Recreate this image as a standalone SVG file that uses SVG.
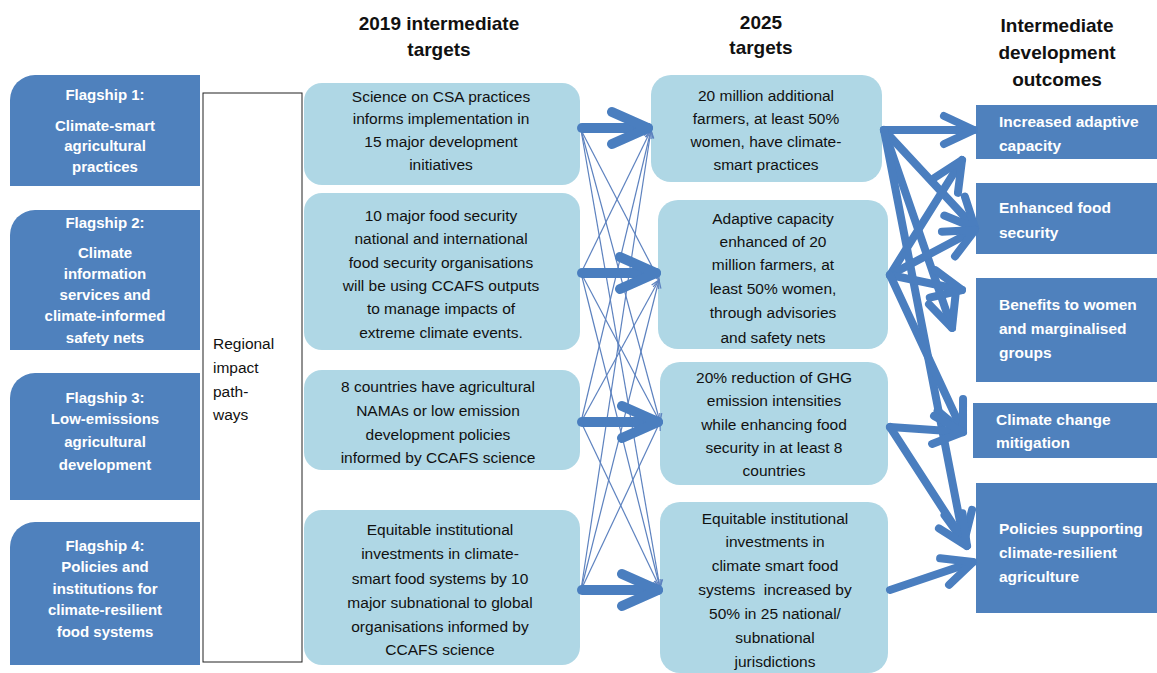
<svg xmlns="http://www.w3.org/2000/svg" width="1157" height="673" viewBox="0 0 1157 673">
<defs>
<style>
.flag{fill:#4f81bd}
.out{fill:#4f81bd}
.lb{fill:#afd7e5}
.hd{font-family:"Liberation Sans",Arial,sans-serif;font-weight:bold;font-size:19px;fill:#111;text-anchor:middle}
.wt{font-family:"Liberation Sans",Arial,sans-serif;font-weight:bold;font-size:15px;fill:#fff;text-anchor:middle}
.wl{font-family:"Liberation Sans",Arial,sans-serif;font-weight:bold;font-size:15.5px;fill:#fff}
.bt{font-family:"Liberation Sans",Arial,sans-serif;font-size:15.5px;fill:#111;text-anchor:middle}
.rt{font-family:"Liberation Sans",Arial,sans-serif;font-size:15.5px;fill:#111}
.thick{stroke:#4a7ebf;stroke-width:10;fill:none;stroke-linecap:round}
.mid{stroke:#4a7ebf;stroke-width:8;fill:none;stroke-linecap:round}
.thin{stroke:#5d82bf;stroke-width:1.2;fill:none}
</style>
<marker id="bigHead" markerUnits="userSpaceOnUse" viewBox="-45 -25 50 50" markerWidth="50" markerHeight="50" refX="0" refY="0" orient="auto">
<path d="M-36,-16 L0,0 L-36,16" fill="none" stroke="#4a7ebf" stroke-width="10" stroke-linecap="round" stroke-linejoin="round"/>
</marker>
<marker id="midHead" markerUnits="userSpaceOnUse" viewBox="-40 -22 44 44" markerWidth="44" markerHeight="44" refX="0" refY="0" orient="auto">
<path d="M-30,-14 L0,0 L-30,14" fill="none" stroke="#4a7ebf" stroke-width="8" stroke-linecap="round" stroke-linejoin="round"/>
</marker>
<marker id="thinHead" markerUnits="userSpaceOnUse" viewBox="-10 -6 12 12" markerWidth="12" markerHeight="12" refX="0" refY="0" orient="auto">
<path d="M-8,-4 L0,0 L-8,4" fill="none" stroke="#5d82bf" stroke-width="1.2"/>
</marker>
</defs>
<rect width="1157" height="673" fill="#ffffff"/>

<g id="headings">
<text class="hd" x="439" y="30">2019 intermediate</text>
<text class="hd" x="439" y="56">targets</text>
<text class="hd" x="761" y="29">2025</text>
<text class="hd" x="761" y="54">targets</text>
<text class="hd" x="1057" y="32">Intermediate</text>
<text class="hd" x="1057" y="59">development</text>
<text class="hd" x="1057" y="86">outcomes</text>
</g>

<g id="flagship1">
<path class="flag" d="M10,100 A25,25 0 0 1 35,75 H200 V186 H10 Z"/>
<text class="wt" x="105" y="100">Flagship 1:</text>
<text class="wt" x="105" y="131">Climate-smart</text>
<text class="wt" x="105" y="151">agricultural</text>
<text class="wt" x="105" y="172">practices</text>
</g>
<g id="flagship2">
<path class="flag" d="M10,235 A25,25 0 0 1 35,210 H200 V350 H10 Z"/>
<text class="wt" x="105" y="228">Flagship 2:</text>
<text class="wt" x="105" y="258">Climate</text>
<text class="wt" x="105" y="279">information</text>
<text class="wt" x="105" y="300">services and</text>
<text class="wt" x="105" y="321">climate-informed</text>
<text class="wt" x="105" y="343">safety nets</text>
</g>
<g id="flagship3">
<path class="flag" d="M10,398 A25,25 0 0 1 35,373 H200 V500 H10 Z"/>
<text class="wt" x="105" y="403">Flagship 3:</text>
<text class="wt" x="105" y="424">Low-emissions</text>
<text class="wt" x="105" y="447">agricultural</text>
<text class="wt" x="105" y="470">development</text>
</g>
<g id="flagship4">
<path class="flag" d="M10,547 A25,25 0 0 1 35,522 H200 V665 H10 Z"/>
<text class="wt" x="105" y="551">Flagship 4:</text>
<text class="wt" x="105" y="572">Policies and</text>
<text class="wt" x="105" y="594">institutions for</text>
<text class="wt" x="105" y="615">climate-resilient</text>
<text class="wt" x="105" y="637">food systems</text>
</g>

<g id="regional">
<rect x="203" y="93" width="99" height="569" fill="#fff" stroke="#222" stroke-width="1"/>
<text class="rt" x="213" y="349">Regional</text>
<text class="rt" x="213" y="373">impact</text>
<text class="rt" x="213" y="397">path-</text>
<text class="rt" x="213" y="420">ways</text>
</g>

<g id="t2019a">
<rect class="lb" x="304" y="83" width="276" height="102" rx="18"/>
<text class="bt" x="441" y="102">Science on CSA practices</text>
<text class="bt" x="441" y="124">informs implementation in</text>
<text class="bt" x="441" y="147">15 major development</text>
<text class="bt" x="441" y="170">initiatives</text>
</g>
<g id="t2019b">
<rect class="lb" x="304" y="193" width="276" height="157" rx="18"/>
<text class="bt" x="441" y="221">10 major food security</text>
<text class="bt" x="441" y="244">national and international</text>
<text class="bt" x="441" y="268">food security organisations</text>
<text class="bt" x="441" y="291">will be using CCAFS outputs</text>
<text class="bt" x="441" y="314">to manage impacts of</text>
<text class="bt" x="441" y="338">extreme climate events.</text>
</g>
<g id="t2019c">
<rect class="lb" x="304" y="370" width="276" height="100" rx="18"/>
<text class="bt" x="438" y="392">8 countries have agricultural</text>
<text class="bt" x="438" y="416">NAMAs or low emission</text>
<text class="bt" x="438" y="440">development policies</text>
<text class="bt" x="438" y="463">informed by CCAFS science</text>
</g>
<g id="t2019d">
<rect class="lb" x="304" y="510" width="276" height="155" rx="18"/>
<text class="bt" x="440" y="535">Equitable institutional</text>
<text class="bt" x="440" y="559">investments in climate-</text>
<text class="bt" x="440" y="584">smart food systems by 10</text>
<text class="bt" x="440" y="608">major subnational to global</text>
<text class="bt" x="440" y="632">organisations informed by</text>
<text class="bt" x="440" y="655">CCAFS science</text>
</g>

<g id="t2025a">
<rect class="lb" x="651" y="75" width="231" height="107" rx="20"/>
<text class="bt" x="766" y="101">20 million additional</text>
<text class="bt" x="766" y="124">farmers, at least 50%</text>
<text class="bt" x="766" y="147">women, have climate-</text>
<text class="bt" x="766" y="170">smart practices</text>
</g>
<g id="t2025b">
<rect class="lb" x="658" y="200" width="230" height="149" rx="20"/>
<text class="bt" x="773" y="224">Adaptive capacity</text>
<text class="bt" x="773" y="247">enhanced of 20</text>
<text class="bt" x="773" y="270">million farmers, at</text>
<text class="bt" x="773" y="294">least 50% women,</text>
<text class="bt" x="773" y="318">through advisories</text>
<text class="bt" x="773" y="343">and safety nets</text>
</g>
<g id="t2025c">
<rect class="lb" x="660" y="362" width="228" height="123" rx="20"/>
<text class="bt" x="774" y="383">20% reduction of GHG</text>
<text class="bt" x="774" y="406">emission intensities</text>
<text class="bt" x="774" y="430">while enhancing food</text>
<text class="bt" x="774" y="453">security in at least 8</text>
<text class="bt" x="774" y="476">countries</text>
</g>
<g id="t2025d">
<rect class="lb" x="660" y="502" width="228" height="171" rx="20"/>
<text class="bt" x="775" y="524">Equitable institutional</text>
<text class="bt" x="775" y="547">investments in</text>
<text class="bt" x="775" y="571">climate smart food</text>
<text class="bt" x="775" y="595" xml:space="preserve">systems  increased by</text>
<text class="bt" x="775" y="619">50% in 25 national/</text>
<text class="bt" x="775" y="643">subnational</text>
<text class="bt" x="775" y="667">jurisdictions</text>
</g>

<g id="outcome1">
<rect class="out" x="976" y="105" width="181" height="54"/>
<text class="wl" x="999" y="127">Increased adaptive</text>
<text class="wl" x="999" y="151">capacity</text>
</g>
<g id="outcome2">
<rect class="out" x="976" y="183" width="181" height="71"/>
<text class="wl" x="999" y="213">Enhanced food</text>
<text class="wl" x="999" y="238">security</text>
</g>
<g id="outcome3">
<rect class="out" x="976" y="278" width="181" height="104"/>
<text class="wl" x="999" y="310">Benefits to women</text>
<text class="wl" x="999" y="334">and marginalised</text>
<text class="wl" x="999" y="358">groups</text>
</g>
<g id="outcome4">
<rect class="out" x="973" y="403" width="184" height="55"/>
<text class="wl" x="996" y="425">Climate change</text>
<text class="wl" x="996" y="448">mitigation</text>
</g>
<g id="outcome5">
<rect class="out" x="976" y="483" width="181" height="130"/>
<text class="wl" x="999" y="534">Policies supporting</text>
<text class="wl" x="999" y="558">climate-resilient</text>
<text class="wl" x="999" y="582">agriculture</text>
</g>

<g id="connectors">
<g id="thin-links">
<line class="thin" x1="581" y1="130" x2="659" y2="280" marker-end="url(#thinHead)"/>
<line class="thin" x1="581" y1="130" x2="660" y2="422" marker-end="url(#thinHead)"/>
<line class="thin" x1="581" y1="130" x2="660" y2="588" marker-end="url(#thinHead)"/>
<line class="thin" x1="581" y1="273" x2="651" y2="130" marker-end="url(#thinHead)"/>
<line class="thin" x1="581" y1="273" x2="660" y2="422" marker-end="url(#thinHead)"/>
<line class="thin" x1="581" y1="273" x2="660" y2="588" marker-end="url(#thinHead)"/>
<line class="thin" x1="581" y1="422" x2="651" y2="130" marker-end="url(#thinHead)"/>
<line class="thin" x1="581" y1="422" x2="659" y2="280" marker-end="url(#thinHead)"/>
<line class="thin" x1="581" y1="422" x2="660" y2="588" marker-end="url(#thinHead)"/>
<line class="thin" x1="581" y1="590" x2="651" y2="130" marker-end="url(#thinHead)"/>
<line class="thin" x1="581" y1="590" x2="659" y2="280" marker-end="url(#thinHead)"/>
<line class="thin" x1="581" y1="590" x2="660" y2="422" marker-end="url(#thinHead)"/>
</g>
<g id="thick-links">
<line class="thick" x1="582" y1="128" x2="648" y2="128" marker-end="url(#bigHead)"/>
<line class="thick" x1="582" y1="273" x2="656" y2="273" marker-end="url(#bigHead)"/>
<line class="thick" x1="582" y1="422" x2="658" y2="422" marker-end="url(#bigHead)"/>
<line class="thick" x1="582" y1="590" x2="658" y2="590" marker-end="url(#bigHead)"/>
</g>
<g id="outcome-links">
<line class="mid" x1="884" y1="130" x2="974" y2="130" marker-end="url(#midHead)"/>
<line class="mid" x1="884" y1="130" x2="975" y2="228" marker-end="url(#midHead)"/>
<line class="mid" x1="884" y1="130" x2="952" y2="328" marker-end="url(#midHead)"/>
<line class="mid" x1="884" y1="130" x2="964" y2="542" marker-end="url(#midHead)"/>
<line class="mid" x1="890" y1="275" x2="962" y2="160" marker-end="url(#midHead)"/>
<line class="mid" x1="890" y1="275" x2="975" y2="230" marker-end="url(#midHead)"/>
<line class="mid" x1="890" y1="275" x2="962" y2="290" marker-end="url(#midHead)"/>
<line class="mid" x1="890" y1="275" x2="963" y2="432" marker-end="url(#midHead)"/>
<line class="mid" x1="890" y1="427" x2="963" y2="432" marker-end="url(#midHead)"/>
<line class="mid" x1="890" y1="427" x2="967" y2="546" marker-end="url(#midHead)"/>
<line class="mid" x1="890" y1="590" x2="973" y2="562" marker-end="url(#midHead)"/>
</g>
</g>
</svg>
